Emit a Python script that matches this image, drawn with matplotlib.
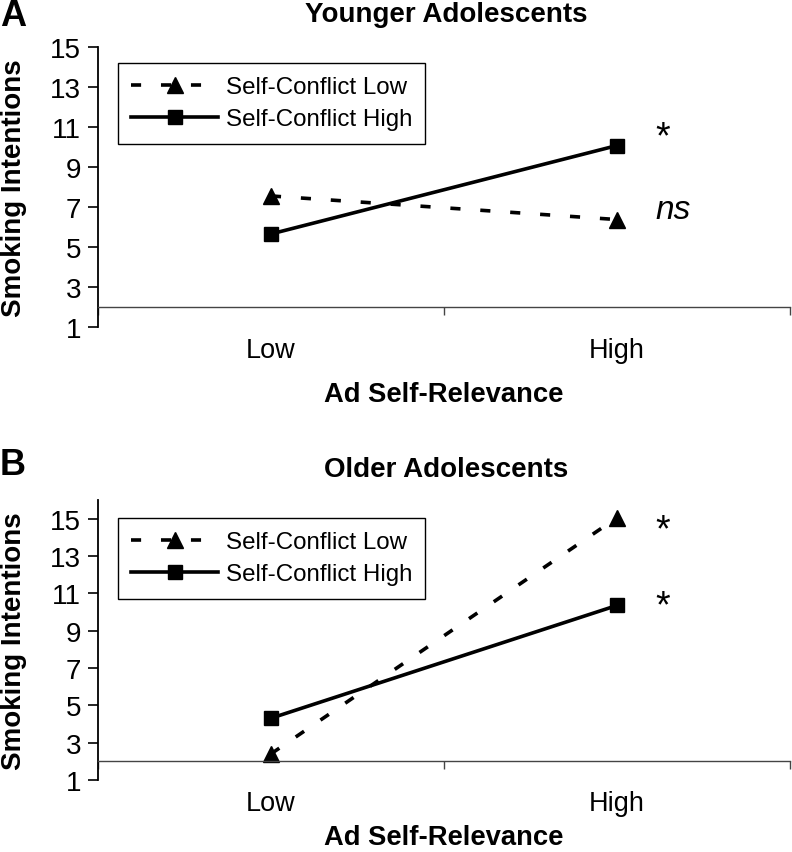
import numpy as np
import matplotlib
matplotlib.use("Agg")
import matplotlib.pyplot as plt

plt.rcParams['font.family'] = ['Liberation Sans', 'DejaVu Sans']

# data
categories = ['Low', 'High']
series_names = ['Self-Conflict Low', 'Self-Conflict High']
younger_low = [7.55, 6.37]
younger_high = [5.65, 10.07]
older_low = [2.4, 15.05]
older_high = [4.31, 10.35]
yticks = list(range(1, 16, 2))

fig = plt.figure(figsize=(7.92, 8.53), dpi=100)
axA = fig.add_axes([0.1237, 0.6155, 0.8737, 0.3283])
axB = fig.add_axes([0.1237, 0.0844, 0.8737, 0.3283])


def draw_panel(ax, low_vals, high_vals, ymax, title, title_y, xlabel_y, leg_y, notes):
    x = np.arange(len(categories))
    ax.plot(x, low_vals, color='black', lw=2.6, dashes=(2.8, 5.5),
            marker='^', markersize=11, label=series_names[0], clip_on=False)
    ax.plot(x, high_vals, color='black', lw=2.6, ls='-',
            marker='s', markersize=10, label=series_names[1], clip_on=False)

    ax.set_xlim(-0.5, 1.5)
    ax.set_ylim(1, ymax)
    ax.set_yticks(yticks)
    ax.tick_params(axis='y', direction='out', length=7, width=1.2, pad=5,
                   labelsize=20)

    # x axis crosses at 2
    ax.spines['bottom'].set_position(('data', 2))
    ax.spines['bottom'].set_color('#444444')
    ax.spines['bottom'].set_linewidth(1.0)
    ax.spines['top'].set_visible(False)
    ax.spines['right'].set_visible(False)
    ax.spines['left'].set_linewidth(1.3)
    ax.set_xticks([-0.5, 0.5, 1.5])
    ax.set_xticklabels([])
    ax.tick_params(axis='x', direction='out', length=6, width=1.0,
                   color='#444444')

    sec = ax.secondary_xaxis(0.0)
    sec.set_xticks(range(len(categories)), labels=categories)
    sec.tick_params(length=0, pad=7, labelsize=19.5)
    sec.spines['bottom'].set_visible(False)

    ax.set_ylabel('Smoking Intentions', fontsize=20, fontweight='bold')
    ax.yaxis.set_label_coords(-0.103, 0.5)
    ax.text(0.503, title_y, title, transform=ax.transAxes, ha='center',
            va='center', fontsize=20, fontweight='bold')
    ax.text(0.5, xlabel_y, 'Ad Self-Relevance', transform=ax.transAxes,
            ha='center', va='center', fontsize=19.7, fontweight='bold')

    for (nx, ny, txt, style, size) in notes:
        ax.text(nx, ny, txt, ha='left', va='center', fontsize=size,
                style=style)

    leg = ax.legend(loc='upper left', bbox_to_anchor=(0.029, leg_y),
                    borderaxespad=0, fontsize=17.4, handlelength=3.6,
                    handletextpad=0.3, labelspacing=0.42, numpoints=1,
                    fancybox=False, framealpha=1, edgecolor='black',
                    borderpad=0.55)
    leg.get_frame().set_linewidth(1.0)


draw_panel(axA, younger_low, younger_high, 15, 'Younger Adolescents', 1.118, -0.24, 0.943,
           [(1.11, 10.5, '*', 'normal', 27), (1.11, 6.85, 'ns', 'italic', 24)])
draw_panel(axB, older_low, older_high, 16, 'Older Adolescents', 1.11, -0.204, 0.936,
           [(1.11, 14.35, '*', 'normal', 27), (1.11, 10.3, '*', 'normal', 27)])

fig.text(0.0, 1 - 26 / 853, 'A', ha='left', va='baseline', fontsize=26,
         fontweight='bold')
fig.text(0.0, 1 - 475 / 853, 'B', ha='left', va='baseline', fontsize=26,
         fontweight='bold')

fig.savefig('out.png', dpi=100)
